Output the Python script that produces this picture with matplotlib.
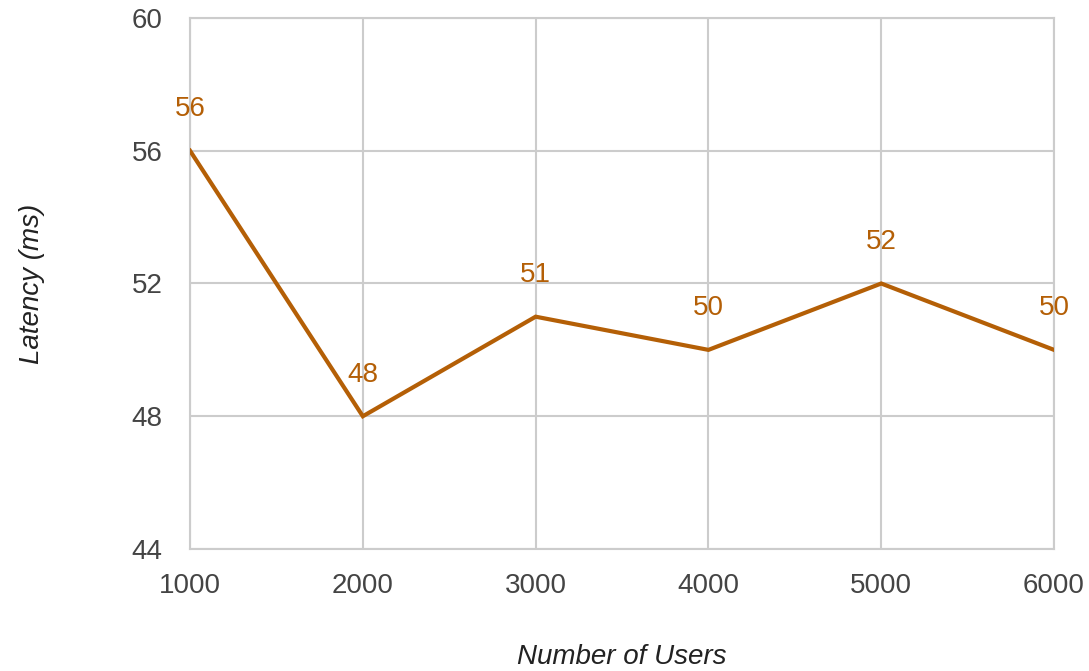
import matplotlib.pyplot as plt

plt.rcParams['font.family'] = ['Liberation Sans', 'DejaVu Sans']

users = [1000, 2000, 3000, 4000, 5000, 6000]
latency = [56, 48, 51, 50, 52, 50]
y_ticks = [44, 48, 52, 56, 60]

line_color = '#b45f06'
text_color = '#444444'
grid_color = '#cccccc'

fig = plt.figure(figsize=(10.89, 6.71), dpi=100)
ax = fig.add_axes([0.1745, 0.1818, 0.7934, 0.7914])

ax.plot(users, latency, color=line_color, linewidth=3, solid_joinstyle='miter', zorder=3)
for x, y in zip(users, latency):
    ax.annotate(str(y), (x, y), xytext=(0, 30), textcoords='offset points',
                ha='center', va='center', fontsize=20, color=line_color)

ax.set_xlim(1000, 6000)
ax.set_ylim(44, 60)
ax.set_xticks(users)
ax.set_yticks(y_ticks)
ax.grid(True, color=grid_color, linewidth=1.5)
ax.set_axisbelow(True)
for s in ax.spines.values():
    s.set_color(grid_color)
    s.set_linewidth(1.5)
ax.tick_params(length=0, labelsize=20, labelcolor=text_color)
ax.tick_params(axis='y', pad=20)
ax.tick_params(axis='x', pad=17)

ax.set_xlabel('Number of Users', fontsize=20, style='italic', color='#222222', labelpad=33)
ax.set_ylabel('Latency (ms)', fontsize=20, style='italic', color='#222222', labelpad=62)

fig.savefig('out.png', dpi=100)
